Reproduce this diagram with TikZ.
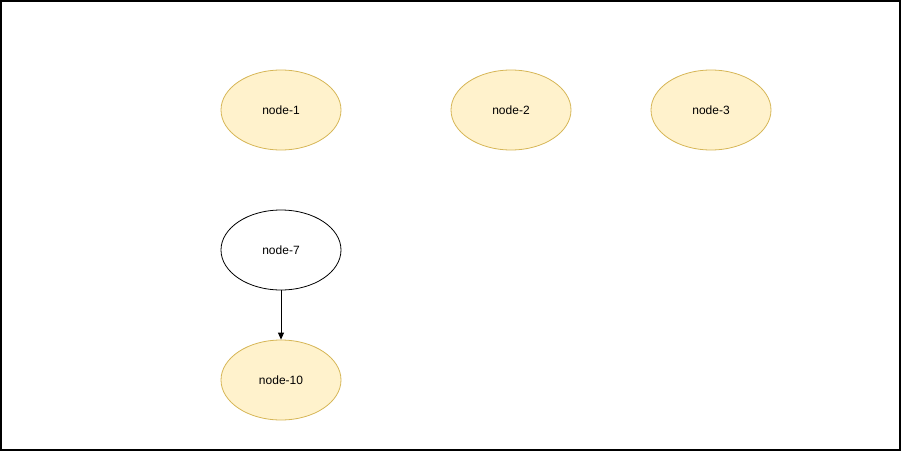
\documentclass[tikz,border=0pt]{standalone}
\usepackage{fontspec}
\setmainfont{Liberation Sans}
\usetikzlibrary{shapes.geometric,arrows.meta}
\definecolor{yfill}{HTML}{FFF2CC}
\definecolor{ystroke}{HTML}{D6B656}
\tikzset{
  ybox/.style={ellipse, draw=ystroke, fill=yfill, line width=0.8pt, minimum width=120pt, minimum height=80pt, inner sep=0pt, font=\fontsize{12pt}{14pt}\selectfont},
  wbox/.style={ellipse, draw=black, fill=white, line width=0.8pt, minimum width=120pt, minimum height=80pt, inner sep=0pt, font=\fontsize{12pt}{14pt}\selectfont},
  conn/.style={draw=black, line width=0.8pt, -{Triangle[length=7pt,width=6pt]}}
}
\begin{document}
\begin{tikzpicture}[x=1pt,y=-1pt]
\useasboundingbox (0,0) rectangle (901,452);
\draw[line width=1.5pt] (1,1) rectangle (900,450);
\node[ybox] (n1) at (281,110) {node-1};
\node[ybox] (n2) at (511,110) {node-2};
\node[ybox] (n3) at (711,110) {node-3};
\node[wbox] (n7) at (281,250) {node-7};
\node[ybox] (n10) at (281,380) {node-10};
\draw[conn] (n7) -- (n10);
\end{tikzpicture}
\end{document}
